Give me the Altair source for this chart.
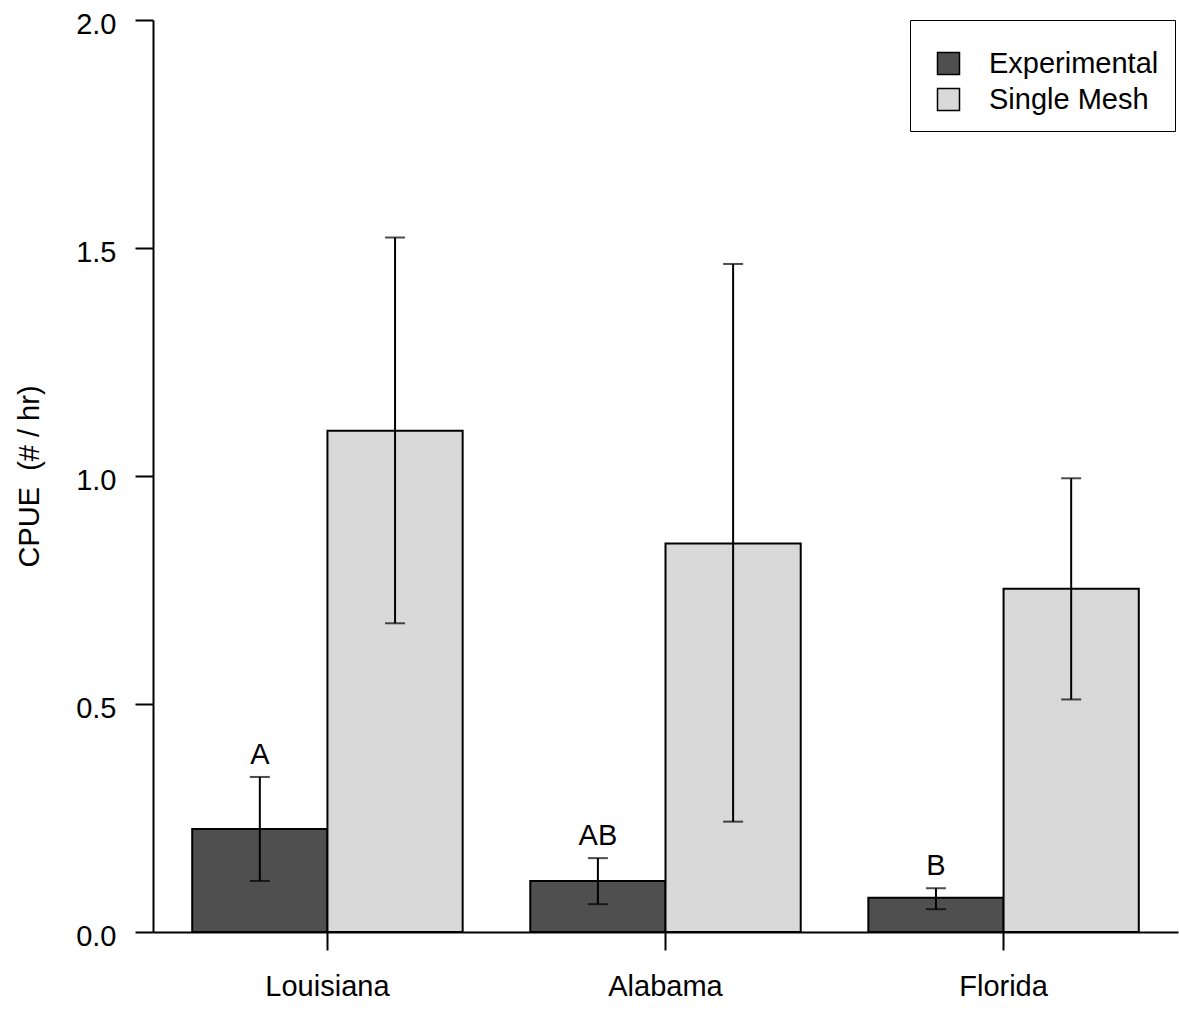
import altair as alt
import pandas as pd

# CPUE by state and gear type, with error bar limits
states = ["Louisiana", "Alabama", "Florida"]
gears = ["Experimental", "Single Mesh"]

exp_mean = [0.226, 0.112, 0.075]
exp_lo = [0.112, 0.061, 0.050]
exp_hi = [0.340, 0.162, 0.096]

sm_mean = [1.099, 0.852, 0.753]
sm_lo = [0.677, 0.242, 0.510]
sm_hi = [1.523, 1.465, 0.995]

letters = ["A", "AB", "B"]

colors = ["#4f4f4f", "#d9d9d9"]
FONT = "Liberation Sans"
FS = 29
LW = 2

rows = []
for i, s in enumerate(states):
    rows.append({"state": s, "gear": gears[0], "mean": exp_mean[i],
                 "lo": exp_lo[i], "hi": exp_hi[i], "letter": letters[i]})
    rows.append({"state": s, "gear": gears[1], "mean": sm_mean[i],
                 "lo": sm_lo[i], "hi": sm_hi[i], "letter": ""})
df = pd.DataFrame(rows)

x_enc = alt.X("state:N", sort=states, title=None,
              scale=alt.Scale(paddingInner=0.2, paddingOuter=0.116),
              axis=alt.Axis(labelAngle=0, labelFontSize=FS, labelFont=FONT,
                            labelColor="black", tickSize=18, tickColor="black",
                            tickWidth=LW, domainColor="black", domainWidth=LW,
                            labelPadding=22, tickBand="center"))
xoff = alt.XOffset("gear:N", sort=gears)
y_scale = alt.Scale(domain=[0, 2], nice=False, zero=True)

base = alt.Chart(df)

bars = base.mark_bar(stroke="black", strokeWidth=LW).encode(
    x=x_enc,
    xOffset=xoff,
    y=alt.Y("mean:Q", scale=y_scale, title="CPUE\u00a0\u00a0(# / hr)",
            axis=alt.Axis(values=[0, 0.5, 1.0, 1.5, 2.0], format=".1f",
                          grid=False, labelFontSize=FS, labelFont=FONT,
                          labelColor="black", tickSize=18, tickColor="black",
                          tickWidth=LW, domainColor="black", domainWidth=LW,
                          labelPadding=19, labelOffset=4,
                          titleFontSize=FS, titleFont=FONT, titleFontWeight="normal",
                          titleColor="black", titlePadding=31)),
    fill=alt.Fill("gear:N", sort=gears,
                  scale=alt.Scale(domain=gears, range=colors),
                  legend=alt.Legend(title="\u00a0", titleFontSize=8, titlePadding=5,
                                    orient="none", legendX=757, legendY=0,
                                    labelFontSize=FS, labelFont=FONT, labelColor="black",
                                    labelLimit=400,
                                    symbolType="square", symbolSize=484,
                                    symbolStrokeColor="black", symbolStrokeWidth=1.5,
                                    symbolOffset=8,
                                    rowPadding=6, labelOffset=26,
                                    padding=16, strokeColor="black", fillColor="white",
                                    offset=0)),
)

rules = base.mark_rule(color="black", strokeWidth=LW).encode(
    x=alt.X("state:N", sort=states), xOffset=xoff,
    y=alt.Y("lo:Q", scale=y_scale), y2="hi:Q",
)

caps_hi = base.mark_tick(color="black", thickness=LW, size=20).encode(
    x=alt.X("state:N", sort=states), xOffset=xoff,
    y=alt.Y("hi:Q", scale=y_scale),
)
caps_lo = base.mark_tick(color="black", thickness=LW, size=20).encode(
    x=alt.X("state:N", sort=states), xOffset=xoff,
    y=alt.Y("lo:Q", scale=y_scale),
)

labels = base.mark_text(baseline="bottom", dy=-7, fontSize=FS, font=FONT,
                        color="black").encode(
    x=alt.X("state:N", sort=states), xOffset=xoff,
    y=alt.Y("hi:Q", scale=y_scale),
    text="letter:N",
)

chart = alt.layer(bars, rules, caps_hi, caps_lo, labels).properties(
    width=1025, height=912,
    autosize=alt.AutoSizeParams(type="none"),
    padding={"left": 153, "top": 20, "right": 1, "bottom": 77},
    background="white",
).configure_view(stroke=None)

chart.save("out.html", embed_options={"renderer": "svg", "actions": False})
